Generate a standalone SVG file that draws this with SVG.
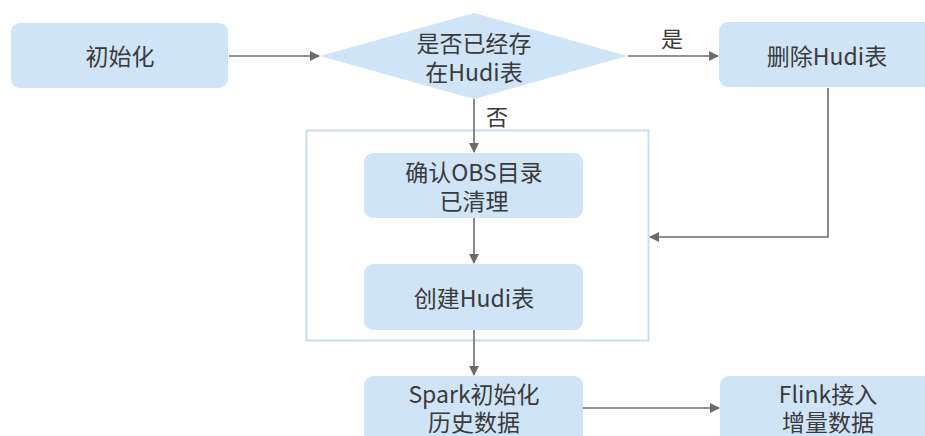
<svg xmlns="http://www.w3.org/2000/svg" width="925" height="436" viewBox="0 0 925 436">
<defs>
<style>
.n{fill:#d0e4f8;}
.t{font-family:"Noto Sans CJK SC","Noto Sans",sans-serif;font-size:23px;fill:#3a3a3a;text-anchor:middle;dominant-baseline:central;}
.c{fill:none;stroke:#6b6b6b;stroke-width:1.6;}
.lbl{font-family:"Noto Sans CJK SC","Noto Sans",sans-serif;font-size:22px;fill:#3a3a3a;text-anchor:middle;dominant-baseline:central;}
</style>
<marker id="ah" markerWidth="10" markerHeight="10" refX="9" refY="5" orient="auto" markerUnits="userSpaceOnUse">
<path d="M0,0 L10,5 L0,10 Z" fill="#6b6b6b"/>
</marker>
</defs>
<rect width="925" height="436" fill="#ffffff"/>
<g id="container">
<rect x="306.5" y="130.5" width="342" height="210" fill="none" stroke="#c9def5" stroke-width="2"/>
</g>
<g id="connectors">
<line class="c" x1="229" y1="56" x2="319" y2="56" marker-end="url(#ah)"/>
<line class="c" x1="628" y1="56" x2="718" y2="56" marker-end="url(#ah)"/>
<polyline class="c" points="828,88 828,237 650,237" marker-end="url(#ah)"/>
<line class="c" x1="474" y1="99" x2="474" y2="152" marker-end="url(#ah)"/>
<line class="c" x1="474" y1="218" x2="474" y2="263" marker-end="url(#ah)"/>
<line class="c" x1="474" y1="330" x2="474" y2="375" marker-end="url(#ah)"/>
<line class="c" x1="582" y1="408" x2="719" y2="408" marker-end="url(#ah)"/>
<text class="lbl" x="672" y="37">是</text>
<text class="lbl" x="497" y="115">否</text>
</g>
<g id="init">
<rect class="n" x="11" y="23" width="217" height="65" rx="9"/>
<text class="t" x="120" y="55">初始化</text>
</g>
<g id="decision">
<polygon class="n" points="474,13 627,56 474,99 320,56"/>
<text class="t"><tspan x="474" y="42">是否已经存</tspan><tspan x="474" y="71">在Hudi表</tspan></text>
</g>
<g id="delete">
<rect class="n" x="719" y="22" width="220" height="65" rx="9"/>
<text class="t" x="827" y="55">删除Hudi表</text>
</g>
<g id="confirm">
<rect class="n" x="364" y="153" width="219" height="65" rx="9"/>
<text class="t"><tspan x="474" y="171">确认OBS目录</tspan><tspan x="474" y="200">已清理</tspan></text>
</g>
<g id="create">
<rect class="n" x="364" y="264" width="219" height="66" rx="9"/>
<text class="t" x="474" y="297">创建Hudi表</text>
</g>
<g id="spark">
<rect class="n" x="364" y="376" width="219" height="70" rx="9"/>
<text class="t"><tspan x="474" y="393">Spark初始化</tspan><tspan x="474" y="421">历史数据</tspan></text>
</g>
<g id="flink">
<rect class="n" x="720" y="376" width="219" height="70" rx="9"/>
<text class="t"><tspan x="828" y="393">Flink接入</tspan><tspan x="828" y="421">增量数据</tspan></text>
</g>
</svg>
